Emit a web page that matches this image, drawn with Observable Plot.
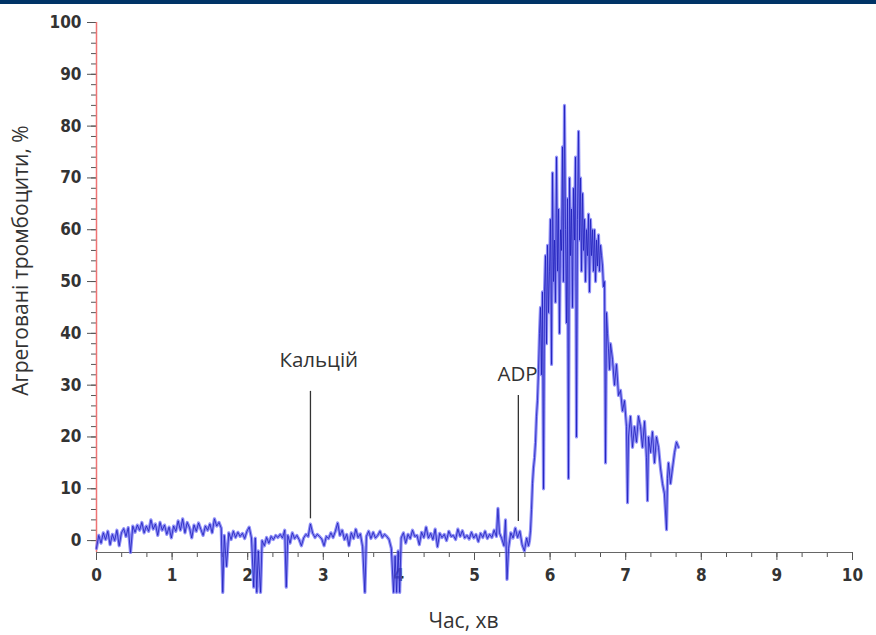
<!DOCTYPE html>
<html>
<head>
<meta charset="utf-8">
<script src="https://cdn.jsdelivr.net/npm/d3@7"></script>
<script src="https://cdn.jsdelivr.net/npm/@observablehq/plot@0.6"></script>
<style>
  html, body { margin: 0; padding: 0; background: #ffffff; }
  #band { height: 4px; background: #003366; }
  #chart svg { display: block; }
</style>
</head>
<body>
<div id="band"></div>
<div id="chart"></div>
<script>
// Time, minutes
const timeMin = [
  0.00,0.03,0.06,0.09,0.12,0.15,0.18,0.21,0.24,0.27,
  0.30,0.33,0.36,0.39,0.42,0.45,0.48,0.51,0.54,0.57,
  0.60,0.63,0.66,0.69,0.72,0.75,0.78,0.81,0.84,0.87,
  0.90,0.93,0.96,0.99,1.02,1.05,1.08,1.11,1.14,1.17,
  1.20,1.23,1.26,1.29,1.32,1.35,1.38,1.41,1.44,1.47,
  1.50,1.53,1.56,1.59,1.62,1.65,1.67,1.69,1.72,1.75,
  1.78,1.81,1.84,1.87,1.90,1.93,1.96,1.99,2.02,2.05,
  2.08,2.10,2.12,2.14,2.17,2.19,2.22,2.25,2.28,2.31,
  2.34,2.37,2.40,2.43,2.46,2.49,2.51,2.53,2.56,2.59,
  2.62,2.65,2.68,2.71,2.74,2.77,2.80,2.83,2.86,2.89,
  2.92,2.95,2.98,3.01,3.04,3.07,3.10,3.13,3.16,3.19,
  3.22,3.25,3.28,3.31,3.34,3.37,3.40,3.43,3.46,3.49,
  3.52,3.55,3.57,3.60,3.63,3.66,3.69,3.72,3.75,3.78,
  3.81,3.84,3.87,3.90,3.93,3.95,3.97,3.99,4.01,4.03,
  4.06,4.09,4.12,4.15,4.18,4.21,4.24,4.27,4.30,4.33,
  4.36,4.39,4.42,4.45,4.48,4.51,4.54,4.57,4.60,4.63,
  4.66,4.69,4.72,4.75,4.78,4.81,4.84,4.87,4.90,4.93,
  4.96,4.99,5.02,5.05,5.08,5.11,5.14,5.17,5.20,5.23,
  5.26,5.29,5.31,5.33,5.36,5.39,5.41,5.43,5.45,5.48,
  5.51,5.54,5.57,5.60,5.63,5.66,5.69,
  5.714,5.728,5.741,5.754,5.767,5.780,5.794,5.807,5.820,5.833,
  5.847,5.860,5.873,5.886,5.899,5.913,5.926,5.939,5.952,5.966,
  5.979,5.992,6.005,6.019,6.032,6.045,6.058,6.071,6.085,6.098,
  6.111,6.124,6.138,6.151,6.164,6.177,6.190,6.204,6.217,6.230,
  6.243,6.257,6.270,6.283,6.296,6.310,6.323,6.336,6.349,6.362,
  6.376,6.389,6.402,6.415,6.429,6.442,6.455,6.468,6.481,6.495,
  6.508,6.521,6.534,6.548,6.561,6.574,6.587,6.601,6.614,6.627,
  6.640,6.653,6.667,6.680,6.693,6.706,6.720,6.733,6.746,6.759,
  6.772,6.786,6.799,6.825,6.852,6.878,6.905,6.931,6.958,6.984,
  7.011,7.024,7.037,7.063,7.090,7.116,7.143,7.169,7.196,7.222,
  7.249,7.275,7.288,7.302,7.328,7.354,7.381,7.407,7.434,7.460,
  7.487,7.513,7.540,7.553,7.566,7.593,7.619,7.646,7.672,7.698
];
// Aggregated platelets, %
const aggregation = [
  -1.5,1.0,-0.5,1.5,0.2,1.8,-0.8,1.2,0.0,2.0,
  -1.0,1.5,2.3,0.8,2.5,-2.3,2.8,1.6,3.0,2.0,
  3.5,1.5,2.8,1.8,4.0,2.2,3.2,1.0,3.5,2.0,
  3.0,1.2,2.6,0.5,2.8,1.8,3.8,2.0,4.2,1.5,
  3.5,2.5,0.5,3.0,1.8,3.4,2.2,1.0,2.8,2.0,
  3.2,1.5,4.2,2.8,3.5,2.4,-10,1.0,-5,1.5,
  0.2,1.8,0.6,1.6,0.8,1.4,0.4,1.8,2.6,0.5,
  -9,0.5,-10,-2,-10,0,-1.0,0.6,-0.5,0.8,
  0.2,1.0,0.6,1.2,0.5,2.0,-9,1.0,-0.5,1.5,
  0.4,1.0,0.2,-1.0,0.5,1.2,0.8,3.2,1.4,0.6,
  1.2,0.8,0.3,-1.0,0.8,0.4,1.5,0.6,1.8,3.4,
  1.0,2.0,0.2,1.2,-1.0,1.5,0.4,2.2,0.6,1.3,
  -1.2,-10,0.8,1.8,0.4,1.6,0.5,1.0,1.8,0.6,
  1.2,0.8,0.2,-1.5,-10,-3,-10,-2,-10,0.5,
  1.5,-0.5,1.2,0.4,2.0,0.8,1.0,-0.8,1.6,0.6,
  2.6,0.5,1.4,0.2,2.2,-1.2,1.4,0.6,1.2,0.0,
  1.8,0.8,1.0,0.2,2.2,0.8,1.9,0.5,1.0,0.3,
  1.6,0.5,1.2,-0.2,1.4,0.6,1.8,0.4,1.2,0.6,
  2.0,0.8,6.2,1.5,0.4,-1.0,4.0,-7.5,-1.5,1.5,
  0.5,2.4,0.6,1.8,-0.8,-2.0,0.5,
  -1,0,2,6,11,14,16,19,24,27,
  33,40,45,32,48,10,48,55,38,57,
  44,52,62,34,71,50,58,46,74,52,
  64,40,60,56,76,50,84,60,42,66,
  12,70,55,64,45,68,58,74,20,62,
  79,58,70,52,67,56,62,50,60,55,
  63,48,62,55,60,52,60,50,58,53,
  59,52,57,55,53,49,50,15,44,40,
  37,33,38,35,30,34,28,29,25,27,
  22,7.3,20,24,18,22,19,24,22,18,
  23,16,7.7,20,17,21,15,20,18,14,
  11,9,2.1,12,15,11,14,17,19,18
];

const xTicks = [0,1,2,3,4,5,6,7,8,9,10];
const yTicks = [0,10,20,30,40,50,60,70,80,90,100];

const markerLabels = ["Кальцій", "ADP"];
const markerTime = [2.83, 5.58];
const markerTop = [28.8, 28.0];
const markerBottom = [4.2, 3.7];
const labelTime = [2.94, 5.57];
const labelLevel = [34.8, 32.1];

const trace = timeMin.map((t, i) => ({t, v: aggregation[i]}));
const markers = markerLabels.map((label, i) => ({
  label, t: markerTime[i], y1: markerBottom[i], y2: markerTop[i],
  lt: labelTime[i], ly: labelLevel[i]
}));

const yMin = -2.3;
const tickColor = "#555";
const textFont = "'Open Sans', 'Noto Sans', sans-serif";

const chart = Plot.plot({
  width: 876,
  height: 631,
  marginLeft: 96,
  marginRight: 24,
  marginTop: 18,
  marginBottom: 83,
  style: {
    fontFamily: "'Liberation Sans Narrow', 'DejaVu Sans Condensed', 'Liberation Sans', sans-serif",
    fontSize: "17px",
    fontWeight: "bold",
    color: "#333",
    background: "#ffffff"
  },
  x: {domain: [0, 10], label: null},
  y: {domain: [yMin, 100], label: null},
  marks: [
    // axes
    Plot.axisY(d3.range(0, 101, 2), {tickSize: 5, tickFormat: () => "", stroke: tickColor, label: null}),
    Plot.axisY(yTicks, {tickSize: 9, tickPadding: 6, stroke: tickColor, label: null}),
    Plot.axisX(d3.range(0, 10.001, 1/3), {tickSize: 5, tickFormat: () => "", stroke: tickColor, label: null}),
    Plot.axisX(xTicks, {tickSize: 8, tickPadding: 8, stroke: tickColor, label: null}),
    Plot.ruleY([yMin], {stroke: "#666", strokeWidth: 1.2}),
    Plot.ruleX([0], {y1: yMin, y2: 100, stroke: "#ee7474", strokeWidth: 1.5}),
    // trace
    Plot.line(trace, {x: "t", y: "v", stroke: "#6a6af4", strokeWidth: 3.2, strokeOpacity: 0.75, curve: "linear"}),
    Plot.line(trace, {x: "t", y: "v", stroke: "#2020bc", strokeWidth: 0.9, strokeOpacity: 0.9, curve: "linear"}),
    // markers
    Plot.ruleX(markers, {x: "t", y1: "y1", y2: "y2", stroke: "#333", strokeWidth: 1.3}),
    Plot.text(markers, {x: "lt", y: "ly", text: "label", fontFamily: textFont, fontWeight: "normal", fontSize: 20.5, fill: "#333"}),
    // axis titles
    Plot.text(["Агреговані тромбоцити, %"], {frameAnchor: "left", textAnchor: "middle", rotate: -90, dx: -75, dy: -27,
      fontFamily: textFont, fontWeight: "normal", fontSize: 21, fill: "#333"}),
    Plot.text(["Час, хв"], {frameAnchor: "bottom", textAnchor: "middle", dx: -11, dy: 75,
      fontFamily: textFont, fontWeight: "normal", fontSize: 21, fill: "#333"})
  ]
});
document.getElementById("chart").appendChild(chart);
</script>
</body>
</html>
